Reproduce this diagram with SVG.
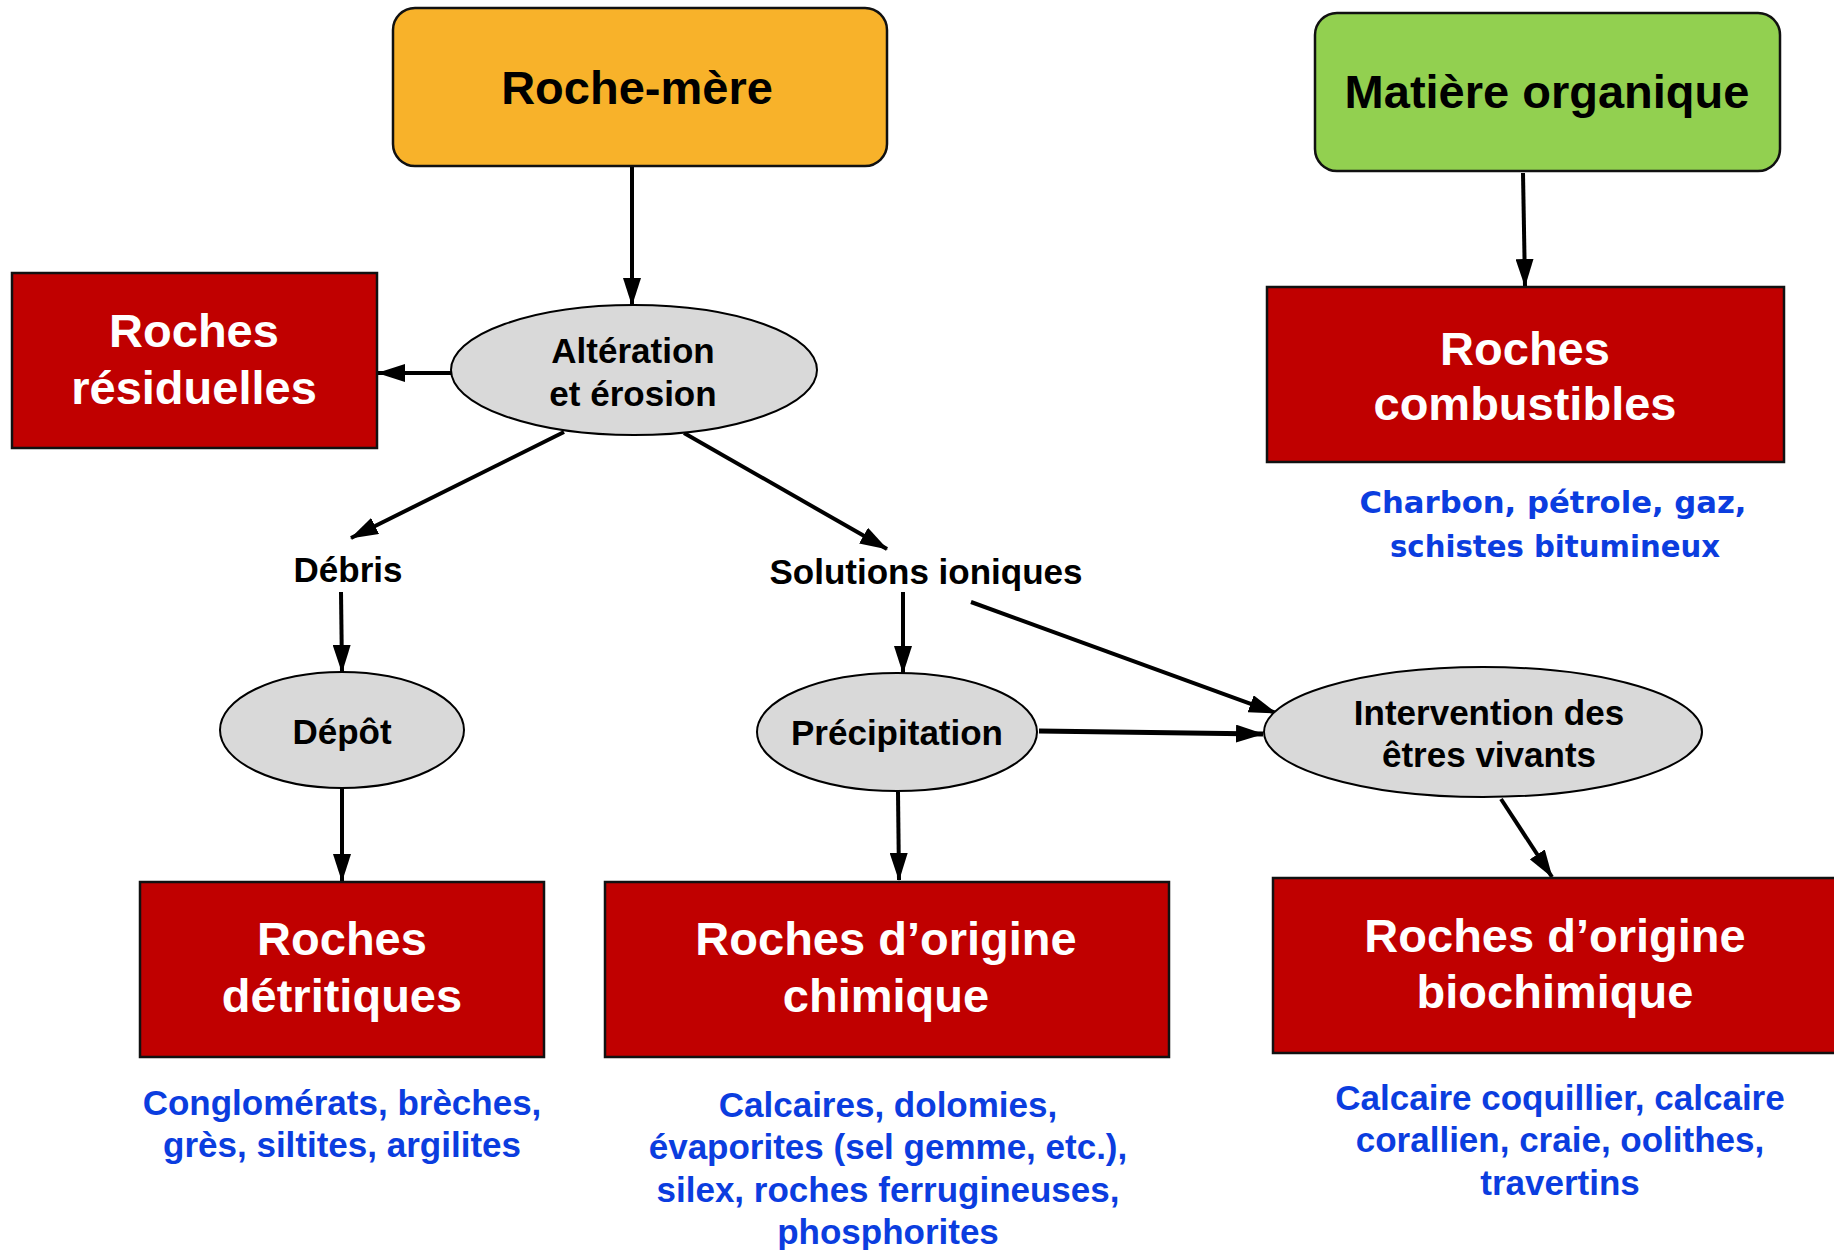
<svg xmlns="http://www.w3.org/2000/svg" width="1834" height="1250" viewBox="0 0 1834 1250">
<defs>
<marker id="ah" markerUnits="userSpaceOnUse" markerWidth="28" markerHeight="18" refX="27" refY="9" orient="auto">
<path d="M0,0 L28,9 L0,18 z" fill="#000"/>
</marker>
<style>
.red{fill:#C00000;stroke:#111;stroke-width:2.5}
.ell{fill:#D9D9D9;stroke:#000;stroke-width:2}
.big{font-family:"Liberation Sans",Arial,sans-serif;font-weight:bold;font-size:47px;text-anchor:middle}
.wt{fill:#fff}
.lbl{font-family:"Liberation Sans",Arial,sans-serif;font-weight:bold;font-size:35px;text-anchor:middle;fill:#000}
.blue{font-family:"Liberation Sans",Arial,sans-serif;font-weight:bold;font-size:35px;text-anchor:middle;fill:#0b3ddf}
.comic{font-family:"Comic Sans MS","DejaVu Sans",sans-serif;font-weight:bold;font-size:31px;text-anchor:middle;fill:#0b3ddf}
.con{stroke:#000;stroke-width:4;fill:none;marker-end:url(#ah)}
</style>
</defs>
<rect width="1834" height="1250" fill="#fff"/>

<g id="connectors">
<line class="con" x1="632" y1="166" x2="632" y2="305"/>
<line class="con" x1="451" y1="373" x2="378" y2="373"/>
<line class="con" x1="564" y1="432" x2="351" y2="538"/>
<line class="con" x1="684" y1="433" x2="887" y2="549"/>
<line class="con" x1="341" y1="592" x2="342" y2="672"/>
<line class="con" x1="342" y1="788" x2="342" y2="881"/>
<line class="con" x1="903" y1="592" x2="903" y2="673"/>
<line class="con" x1="898" y1="792" x2="899" y2="880"/>
<line class="con" style="stroke-width:5" x1="1039" y1="731" x2="1263" y2="734"/>
<line class="con" x1="971" y1="602" x2="1276" y2="713"/>
<line class="con" x1="1501" y1="799" x2="1552" y2="877"/>
<line class="con" x1="1523" y1="173" x2="1525" y2="286"/>
</g>

<g id="roche-mere">
<rect x="393" y="8" width="494" height="158" rx="22" fill="#F8B22A" stroke="#111" stroke-width="2.5"/>
<text class="big" x="637" y="104">Roche-mère</text>
</g>

<g id="matiere-organique">
<rect x="1315" y="13" width="465" height="158" rx="22" fill="#92D050" stroke="#111" stroke-width="2.5"/>
<text class="big" x="1547" y="108">Matière organique</text>
</g>

<g id="alteration">
<ellipse class="ell" cx="634" cy="370" rx="183" ry="65"/>
<text class="lbl" x="633" y="363">Altération</text>
<text class="lbl" x="633" y="406">et érosion</text>
</g>

<g id="roches-residuelles">
<rect class="red" x="12" y="273" width="365" height="175"/>
<text class="big wt" x="194" y="347">Roches</text>
<text class="big wt" x="194" y="404">résiduelles</text>
</g>

<g id="roches-combustibles">
<rect class="red" x="1267" y="287" width="517" height="175"/>
<text class="big wt" x="1525" y="365">Roches</text>
<text class="big wt" x="1525" y="420">combustibles</text>
<text class="comic" x="1553" y="513" textLength="387" lengthAdjust="spacingAndGlyphs">Charbon, pétrole, gaz,</text>
<text class="comic" x="1555" y="557" textLength="330" lengthAdjust="spacingAndGlyphs">schistes bitumineux</text>
</g>

<g id="debris">
<text class="lbl" x="348" y="582">Débris</text>
</g>

<g id="solutions-ioniques">
<text class="lbl" x="926" y="584">Solutions ioniques</text>
</g>

<g id="depot">
<ellipse class="ell" cx="342" cy="730" rx="122" ry="58"/>
<text class="lbl" x="342" y="744">Dépôt</text>
</g>

<g id="precipitation">
<ellipse class="ell" cx="897" cy="732" rx="140" ry="59"/>
<text class="lbl" x="897" y="745">Précipitation</text>
</g>

<g id="intervention">
<ellipse class="ell" cx="1483" cy="732" rx="219" ry="65"/>
<text class="lbl" x="1489" y="725">Intervention des</text>
<text class="lbl" x="1489" y="767">êtres vivants</text>
</g>

<g id="roches-detritiques">
<rect class="red" x="140" y="882" width="404" height="175"/>
<text class="big wt" x="342" y="955">Roches</text>
<text class="big wt" x="342" y="1012">détritiques</text>
<text class="blue" x="342" y="1115">Conglomérats, brèches,</text>
<text class="blue" x="342" y="1157">grès, siltites, argilites</text>
</g>

<g id="roches-chimique">
<rect class="red" x="605" y="882" width="564" height="175"/>
<text class="big wt" x="886" y="955">Roches d’origine</text>
<text class="big wt" x="886" y="1012">chimique</text>
<text class="blue" x="888" y="1117">Calcaires, dolomies,</text>
<text class="blue" x="888" y="1159">évaporites (sel gemme, etc.),</text>
<text class="blue" x="888" y="1202">silex, roches ferrugineuses,</text>
<text class="blue" x="888" y="1244">phosphorites</text>
</g>

<g id="roches-biochimique">
<rect class="red" x="1273" y="878" width="570" height="175"/>
<text class="big wt" x="1555" y="952">Roches d’origine</text>
<text class="big wt" x="1555" y="1008">biochimique</text>
<text class="blue" x="1560" y="1110">Calcaire coquillier, calcaire</text>
<text class="blue" x="1560" y="1152">corallien, craie, oolithes,</text>
<text class="blue" x="1560" y="1195">travertins</text>
</g>
</svg>
